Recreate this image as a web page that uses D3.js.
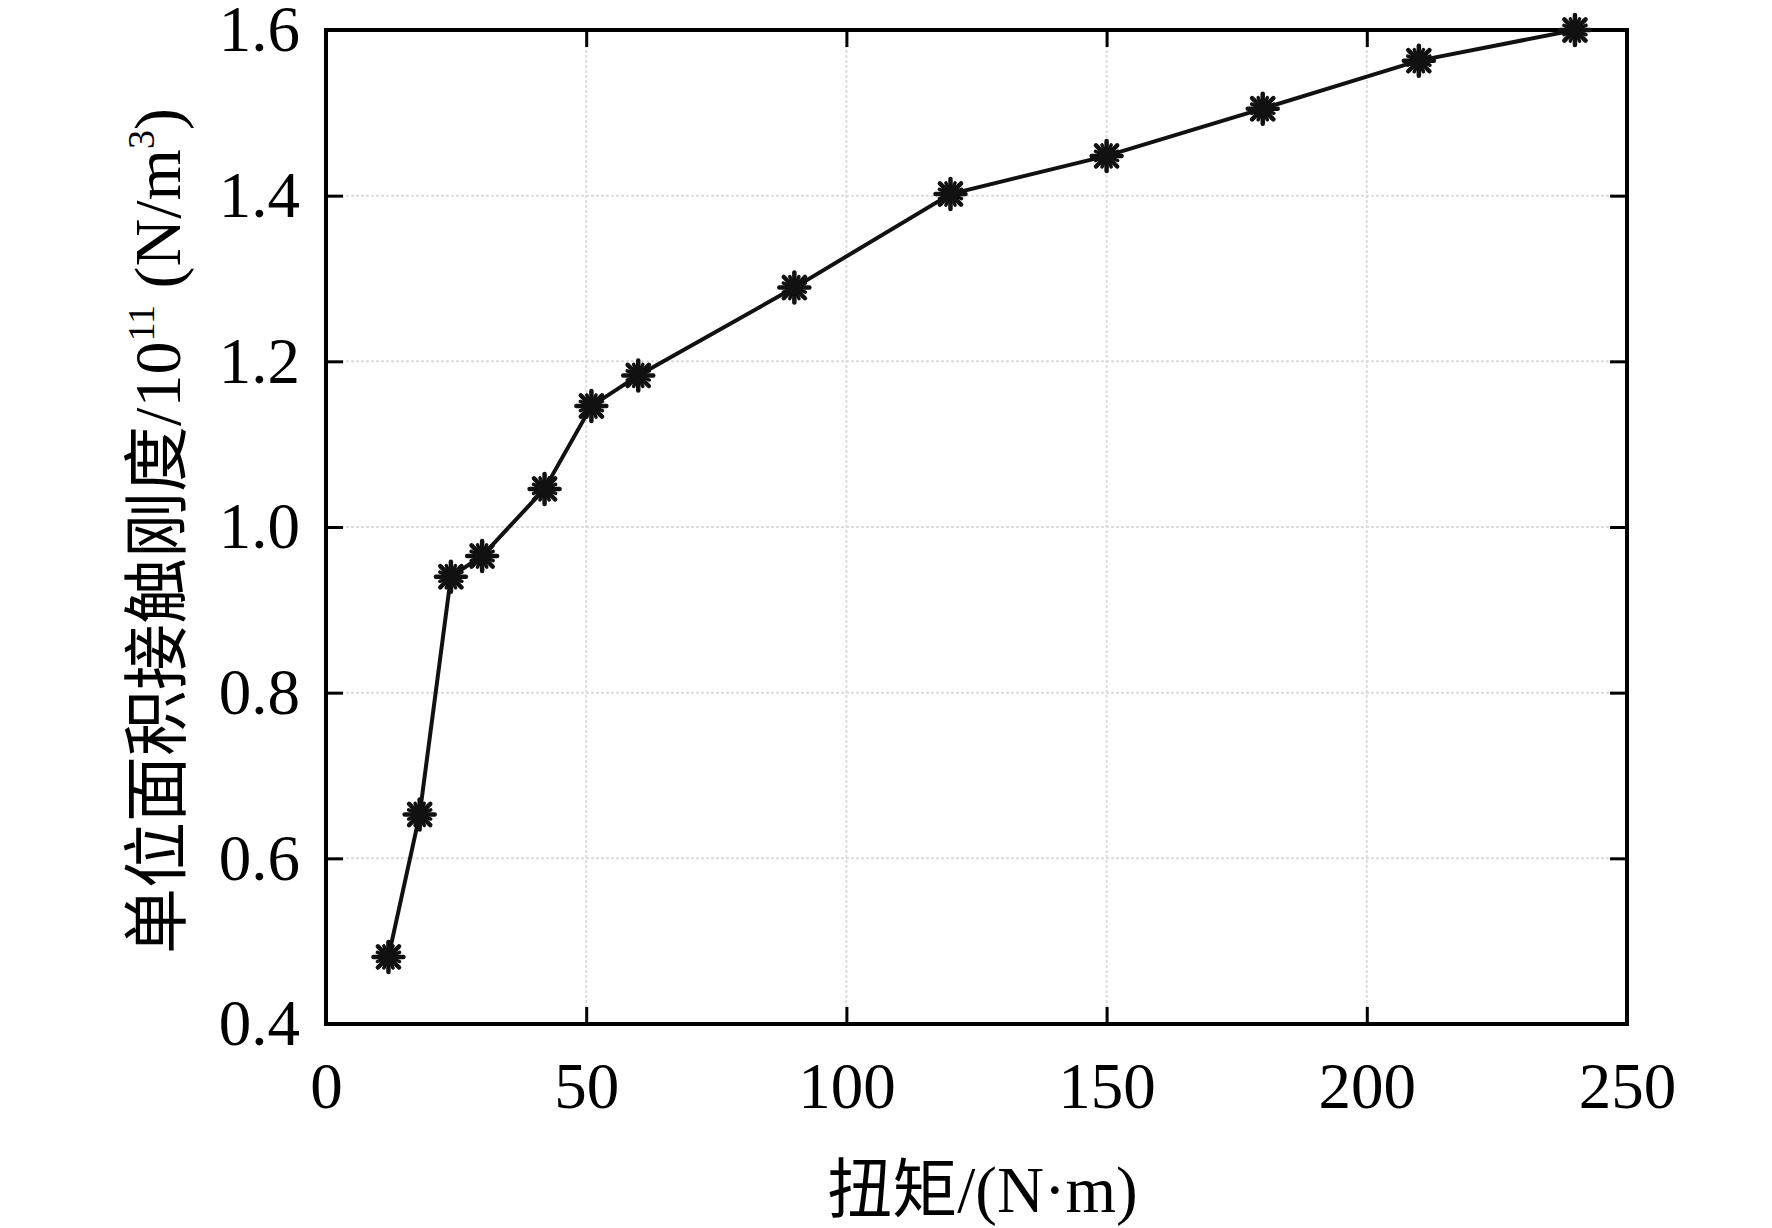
<!DOCTYPE html>
<html>
<head>
<meta charset="utf-8">
<script src="https://cdn.jsdelivr.net/npm/d3@7"></script>
<style>
  html, body { margin: 0; padding: 0; background: #fff; }
  svg { display: block; }
</style>
</head>
<body>
<script>
// ---- data ----
const torque = [12, 18, 24, 30, 42, 51, 60, 90, 120, 150, 180, 210, 240];
const stiffness = [0.481, 0.653, 0.940, 0.965, 1.046, 1.146, 1.183, 1.289, 1.402, 1.448, 1.505, 1.563, 1.600];
const xTicks = [0, 50, 100, 150, 200, 250];
const yTicks = [0.4, 0.6, 0.8, 1.0, 1.2, 1.4, 1.6];
const xLabel = "扭矩/(N·m)";
const yLabelMain = "单位面积接触刚度/10";

const W = 1772, H = 1228;
const m = { left: 326, right: W - 1627, top: 30, bottom: H - 1024 };
const FONT = '"Liberation Serif", "Times New Roman", "Noto Sans CJK SC", serif';

const svg = d3.select("body").append("svg").attr("width", W).attr("height", H);
svg.append("rect").attr("width", W).attr("height", H).attr("fill", "#fff");

const x = d3.scaleLinear().domain([0, 250]).range([m.left, W - m.right]);
const y = d3.scaleLinear().domain([0.4, 1.6]).range([H - m.bottom, m.top]);

// grid
const grid = svg.append("g");
grid.selectAll("line.gx").data(xTicks.slice(1, -1)).join("line")
  .attr("x1", d => x(d)).attr("x2", d => x(d))
  .attr("y1", y(1.6)).attr("y2", y(0.4))
  .attr("stroke", "#dcdcdc").attr("stroke-width", 2).attr("stroke-dasharray", "3,2");
grid.selectAll("line.gy").data(yTicks.slice(1, -1)).join("line")
  .attr("x1", x(0)).attr("x2", x(250))
  .attr("y1", d => y(d)).attr("y2", d => y(d))
  .attr("stroke", "#dcdcdc").attr("stroke-width", 2).attr("stroke-dasharray", "3,2");

// axes
const tickLen = 17;
const fmtY = d3.format(".1f");
const xAxis = d3.axisBottom(x).tickValues(xTicks).tickSizeInner(-tickLen).tickSizeOuter(0).tickPadding(38).tickFormat(d3.format("d"));
const yAxis = d3.axisLeft(y).tickValues(yTicks).tickSizeInner(-tickLen).tickSizeOuter(0).tickPadding(26).tickFormat(fmtY);
const xTop = d3.axisTop(x).tickValues(xTicks).tickSizeInner(-tickLen).tickSizeOuter(0).tickFormat("");
const yRight = d3.axisRight(y).tickValues(yTicks).tickSizeInner(-tickLen).tickSizeOuter(0).tickFormat("");

function style(g) {
  g.select(".domain").remove();
  g.selectAll(".tick line").attr("stroke", "#000").attr("stroke-width", 3);
  g.selectAll(".tick text").attr("fill", "#000").style("font-family", FONT).style("font-size", "65px");
}
svg.append("g").attr("transform", `translate(0,${H - m.bottom})`).call(xAxis).call(style);
svg.append("g").attr("transform", `translate(${m.left},0)`).call(yAxis).call(style);
svg.append("g").attr("transform", `translate(0,${m.top})`).call(xTop).call(style);
svg.append("g").attr("transform", `translate(${W - m.right},0)`).call(yRight).call(style);

// frame
svg.append("rect")
  .attr("x", x(0)).attr("y", y(1.6))
  .attr("width", x(250) - x(0)).attr("height", y(0.4) - y(1.6))
  .attr("fill", "none").attr("stroke", "#000").attr("stroke-width", 4);

// line
const pts = torque.map((t, i) => [t, stiffness[i]]);
svg.append("path").datum(pts)
  .attr("d", d3.line().x(d => x(d[0])).y(d => y(d[1])))
  .attr("fill", "none").attr("stroke", "#111").attr("stroke-width", 4);

// asterisk markers
const mk = svg.append("g").selectAll("g").data(pts).join("g")
  .attr("transform", d => `translate(${x(d[0])},${y(d[1])})`);
const r = 15;
[0, 45, 90, 135, 22.5, 67.5, 112.5, 157.5].forEach((a, k) => {
  const rr = k < 4 ? r : r * 0.8;
  const rad = a * Math.PI / 180;
  mk.append("line")
    .attr("x1", -rr * Math.cos(rad)).attr("y1", -rr * Math.sin(rad))
    .attr("x2", rr * Math.cos(rad)).attr("y2", rr * Math.sin(rad))
    .attr("stroke", "#111").attr("stroke-width", k < 4 ? 4.5 : 3.5).attr("stroke-linecap", "round");
});
mk.append("circle").attr("r", 8).attr("fill", "#111");

// axis labels
svg.append("text")
  .attr("x", (x(0) + x(250)) / 2 + 6).attr("y", 1212)
  .attr("text-anchor", "middle")
  .style("font-family", FONT).style("font-size", "65px").attr("fill", "#000")
  .text(xLabel);

const yl = svg.append("text")
  .attr("transform", `translate(180,${(y(0.4) + y(1.6)) / 2 + 4}) rotate(-90)`)
  .attr("text-anchor", "middle")
  .style("font-family", FONT).style("font-size", "66px").attr("fill", "#000");
yl.append("tspan").text(yLabelMain);
yl.append("tspan").attr("dy", -26).style("font-size", "38px").text("11");
yl.append("tspan").attr("dy", 26).text(" (N/m");
yl.append("tspan").attr("dy", -26).style("font-size", "38px").text("3");
yl.append("tspan").attr("dy", 26).text(")");
</script>
</body>
</html>
